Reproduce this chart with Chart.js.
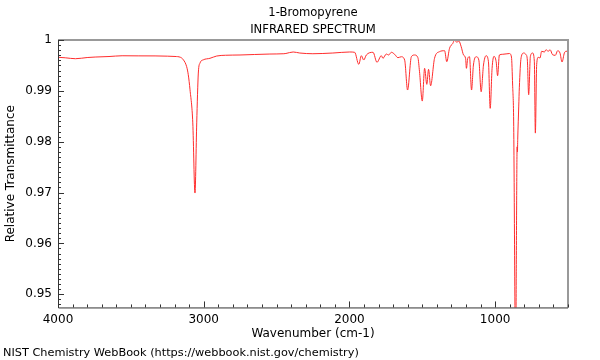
<!DOCTYPE html>
<html>
<head>
<meta charset="utf-8">
<script src="https://cdn.jsdelivr.net/npm/chart.js@4"></script>
<style>
html, body { margin: 0; padding: 0; background: #fff; }
</style>
</head>
<body>
<canvas id="IrSpectrumChart" width="600" height="360"></canvas>
<script>
// spectrum, wavenumber (cm-1) -> relative transmittance
const wavenumbers = [
    4000, 3950, 3880, 3800, 3745, 3650, 3560, 3450, 3334, 3250, 3197, 3160, 3140, 3117, 3106, 3094,
    3075, 3060, 3048, 3037, 3025, 3003, 2957, 2911, 2850, 2751, 2650, 2546, 2450, 2436, 2386, 2341,
    2251, 2114, 1998, 1964, 1936, 1918, 1902, 1884, 1838, 1811, 1781, 1770, 1747, 1731, 1712, 1690,
    1667, 1644, 1621, 1601, 1575, 1553, 1530, 1519, 1500, 1484, 1469, 1457, 1443, 1416, 1382, 1347,
    1332, 1313, 1290, 1279, 1263, 1249, 1233, 1217, 1203, 1197, 1188, 1176, 1162, 1149, 1130, 1112,
    1096, 1080, 1062, 1046, 1034, 1021, 1008, 993, 983, 971, 948, 902, 888, 880, 873, 859,
    855, 849, 847, 845, 838, 834, 822, 804, 788, 779, 770, 758, 743, 731, 724, 715,
    704, 692, 681, 662, 651, 635, 623, 606, 587, 571, 555, 541, 525, 514, 500
];
const transmittance = [
    0.99660, 0.99650, 0.99632, 0.99655, 0.99665, 0.99675, 0.99690, 0.99688, 0.99687, 0.99682, 0.99676, 0.99660, 0.99612, 0.99475, 0.99317, 0.99020,
    0.98370, 0.96990, 0.98370, 0.99350, 0.99550, 0.99610, 0.99640, 0.99685, 0.99700, 0.99705, 0.99715, 0.99724, 0.99730, 0.99735, 0.99764, 0.99744,
    0.99730, 0.99744, 0.99764, 0.99758, 0.99522, 0.99691, 0.99606, 0.99705, 0.99758, 0.99561, 0.99691, 0.99640, 0.99724, 0.99705, 0.99758, 0.99719,
    0.99652, 0.99671, 0.99606, 0.99016, 0.99671, 0.99705, 0.99652, 0.99376, 0.98799, 0.99443, 0.99128, 0.99423, 0.99100, 0.99640, 0.99770, 0.99789,
    0.99573, 0.99837, 0.99935, 1.00000, 0.99955, 0.99980, 0.99868, 0.99705, 0.99640, 0.99443, 0.99640, 0.99671, 0.99016, 0.99508, 0.99671, 0.99606,
    0.98982, 0.99508, 0.99691, 0.99573, 0.98656, 0.99443, 0.99679, 0.99573, 0.99297, 0.99705, 0.99719, 0.99734, 0.99665, 0.99114, 0.98406, 0.93500,
    0.95500, 0.97900, 0.97800, 0.98050, 0.98700, 0.99060, 0.99650, 0.99744, 0.99711, 0.99606, 0.98923, 0.99679, 0.99744, 0.99581, 0.98169, 0.99514,
    0.99659, 0.99646, 0.99778, 0.99764, 0.99809, 0.99778, 0.99809, 0.99711, 0.99699, 0.99789, 0.99744, 0.99567, 0.99744, 0.99778, 0.99780
];
const xTicks = [4000, 3000, 2000, 1000];
const yTicks = [0.95, 0.96, 0.97, 0.98, 0.99, 1];
const yTickLabels = ['0.95', '0.96', '0.97', '0.98', '0.99', '1'];
const titleLines = ['1-Bromopyrene', 'INFRARED SPECTRUM'];

Chart.defaults.font.family = 'DejaVu Sans';
Chart.defaults.font.size = 12;
Chart.defaults.color = '#000';

// title centred over the plot area, like the NIST image
const plotTitle = {
    id: 'plotTitle',
    afterDraw(chart) {
        const { ctx, chartArea: a } = chart;
        ctx.save();
        ctx.fillStyle = '#000';
        ctx.font = '11.6px "DejaVu Sans"';
        ctx.textAlign = 'center';
        ctx.textBaseline = 'middle';
        titleLines.forEach((line, i) => ctx.fillText(line, (a.left + a.right) / 2, 13 + i * 17));
        ctx.restore();
    }
};

// matplotlib-like frame with inward major/minor ticks
const frameTicks = {
    id: 'frameTicks',
    afterDraw(chart) {
        const { ctx, chartArea: a, scales: { x, y } } = chart;
        ctx.save();
        ctx.strokeStyle = '#999';
        ctx.lineWidth = 2;
        ctx.beginPath();
        ctx.moveTo(a.left, a.top);
        ctx.lineTo(a.right, a.top);
        ctx.lineTo(a.right, a.bottom);
        ctx.stroke();
        ctx.strokeStyle = '#333';
        ctx.lineWidth = 1;
        ctx.beginPath();
        ctx.moveTo(a.left + 0.5, a.top);
        ctx.lineTo(a.left + 0.5, a.bottom + 0.5);
        ctx.lineTo(a.right, a.bottom + 0.5);
        for (let v = 500; v <= 4000; v += 100) {
            const px = Math.round(x.getPixelForValue(v)) + 0.5;
            const len = v % 1000 === 0 ? 6 : 3;
            ctx.moveTo(px, a.bottom);
            ctx.lineTo(px, a.bottom - len);
        }
        for (let i = 948; i <= 1000; i++) {
            const py = Math.round(y.getPixelForValue(i / 1000)) + 0.5;
            const len = i % 10 === 0 ? 6 : 3;
            ctx.moveTo(a.left, py);
            ctx.lineTo(a.left + len, py);
        }
        ctx.stroke();
        ctx.restore();
    }
};

new Chart(document.getElementById('IrSpectrumChart').getContext('2d'), {
    type: 'line',
    data: {
        datasets: [{
            data: wavenumbers.map((wn, i) => ({ x: wn, y: transmittance[i] })),
            borderColor: 'rgb(255, 45, 45)',
            borderWidth: 1,
            pointRadius: 0,
            fill: false,
            cubicInterpolationMode: 'monotone'
        }]
    },
    options: {
        responsive: false,
        animation: false,
        devicePixelRatio: 1,
        layout: { padding: { left: 3, right: 32, top: 40, bottom: 0 } },
        scales: {
            x: {
                type: 'linear',
                reverse: true,
                min: 500,
                max: 4000,
                afterBuildTicks: scale => { scale.ticks = xTicks.map(v => ({ value: v })); },
                afterFit: scale => { scale.height = 36; },
                grid: { display: false, drawTicks: false },
                border: { display: false },
                ticks: { padding: 5, maxRotation: 0, callback: value => String(value) },
                title: { display: true, text: 'Wavenumber (cm-1)', padding: { top: 0, bottom: 2 } }
            },
            y: {
                min: 0.9474,
                max: 1.0,
                afterBuildTicks: scale => { scale.ticks = yTicks.map(v => ({ value: v })); },
                afterFit: scale => { scale.width = 55; },
                grid: { display: false, drawTicks: false },
                border: { display: false },
                ticks: {
                    padding: 6,
                    callback: value => yTickLabels[yTicks.findIndex(t => Math.abs(t - value) < 1e-6)] ?? ''
                },
                title: { display: true, text: 'Relative Transmittance', padding: { top: 1, bottom: 0 } }
            }
        },
        plugins: {
            legend: { display: false },
            tooltip: { enabled: false },
            title: { display: false },
            subtitle: {
                display: true,
                position: 'bottom',
                align: 'start',
                text: 'NIST Chemistry WebBook (https://webbook.nist.gov/chemistry)',
                font: { size: 11.3 },
                padding: { top: 3, bottom: 0 }
            }
        }
    },
    plugins: [frameTicks, plotTitle]
});
</script>
</body>
</html>
